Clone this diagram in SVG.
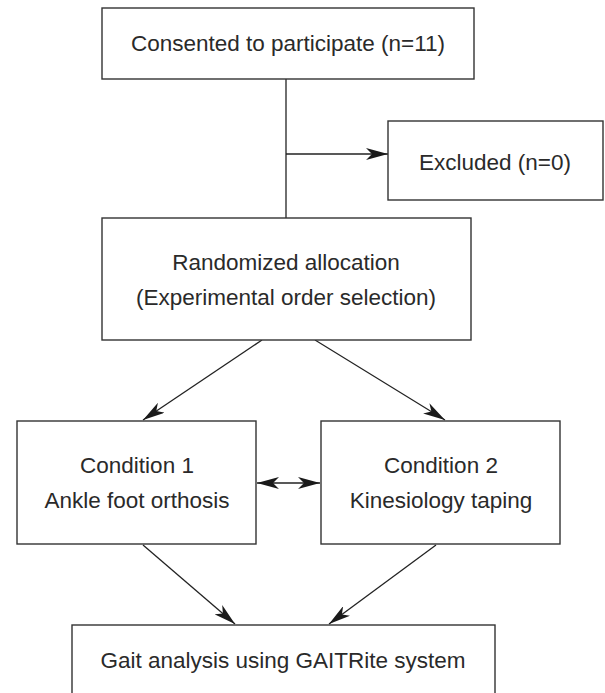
<svg xmlns="http://www.w3.org/2000/svg" width="605" height="693" viewBox="0 0 605 693">
<style>
.box{fill:#fff;stroke:#333;stroke-width:1.4}
.t{font-family:"Liberation Sans",Arial,sans-serif;font-size:22.5px;fill:#2a2a2a;text-anchor:middle}
.c{stroke:#222;stroke-width:1.3;fill:none}
</style>
<defs>
<marker id="ah" viewBox="0 0 22 12" refX="22" refY="6" markerWidth="22" markerHeight="12" markerUnits="userSpaceOnUse" orient="auto-start-reverse">
<path d="M0,0 L22,6 L0,12 L6,6 z" fill="#1a1a1a"/>
</marker>
</defs>
<rect width="605" height="693" fill="#fff"/>
<g id="connectors">
<line class="c" x1="286" y1="79" x2="286" y2="218"/>
<line class="c" x1="286" y1="154" x2="388" y2="154" marker-end="url(#ah)"/>
<line class="c" x1="262" y1="340" x2="143" y2="420" marker-end="url(#ah)"/>
<line class="c" x1="315" y1="340" x2="445" y2="420" marker-end="url(#ah)"/>
<line class="c" x1="257" y1="483" x2="320" y2="483" marker-start="url(#ah)" marker-end="url(#ah)"/>
<line class="c" x1="143" y1="545" x2="235" y2="624" marker-end="url(#ah)"/>
<line class="c" x1="436" y1="545" x2="329" y2="624" marker-end="url(#ah)"/>
</g>
<g id="consented">
<rect class="box" x="102" y="8" width="372" height="71"/>
<text class="t" x="288" y="51">Consented to participate (n=11)</text>
</g>
<g id="excluded">
<rect class="box" x="388" y="121" width="215" height="79"/>
<text class="t" x="495" y="170">Excluded (n=0)</text>
</g>
<g id="randomized">
<rect class="box" x="102" y="218" width="369" height="122"/>
<text class="t" x="286" y="270">Randomized allocation</text>
<text class="t" x="286" y="305">(Experimental order selection)</text>
</g>
<g id="condition1">
<rect class="box" x="17" y="421" width="239" height="123"/>
<text class="t" x="137" y="473">Condition 1</text>
<text class="t" x="137" y="508">Ankle foot orthosis</text>
</g>
<g id="condition2">
<rect class="box" x="321" y="421" width="239" height="123"/>
<text class="t" x="441" y="473">Condition 2</text>
<text class="t" x="441" y="508">Kinesiology taping</text>
</g>
<g id="gait">
<rect class="box" x="72" y="625" width="423" height="80"/>
<text class="t" x="283" y="668">Gait analysis using GAITRite system</text>
</g>
</svg>
